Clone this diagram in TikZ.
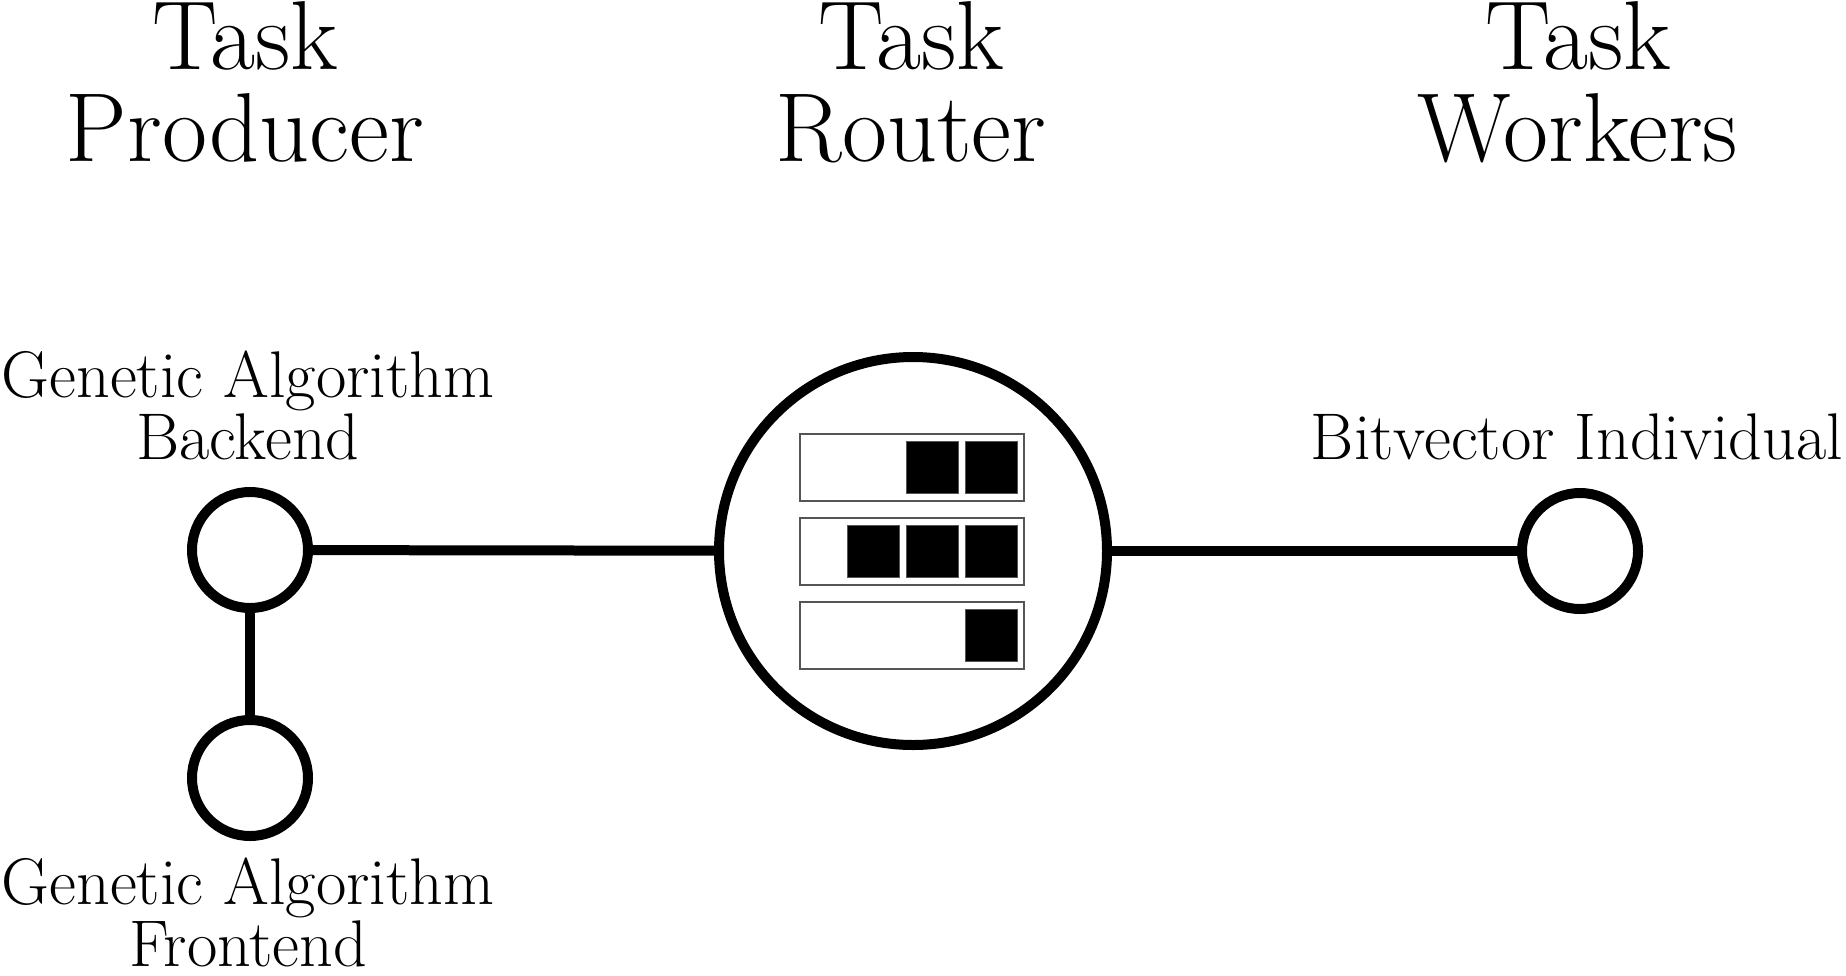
\documentclass[tikz,border=0pt]{standalone}
\usepackage{fontspec}
\usetikzlibrary{positioning}
\definecolor{QBorder}{HTML}{555555}
\tikzstyle{title} = [anchor=base, align=center, inner sep=0pt, font=\fontsize{49}{46}\selectfont]
\tikzstyle{label} = [anchor=base, align=center, inner sep=0pt, font=\fontsize{33}{28.5}\selectfont]
\tikzstyle{agent} = [circle, draw=black, line width=5pt, fill=white, minimum size=58pt, inner sep=0pt]
\tikzstyle{router} = [circle, draw=black, line width=5pt, fill=white, minimum size=194pt, inner sep=0pt]
\tikzstyle{queue} = [rectangle, draw=QBorder, line width=0.6pt, minimum width=112pt, minimum height=33.5pt, inner sep=0pt]
\tikzstyle{task} = [rectangle, draw=QBorder, line width=0.4pt, fill=black, minimum size=26pt, inner sep=0pt]
\tikzstyle{link} = [line width=5pt]

\begin{document}
\begin{tikzpicture}[x=0.5pt, y=-0.5pt]

\useasboundingbox (0,0) rectangle (1846,975);

% column headings (base = last line)
\node (hprod) [title] at (245,161) {Task\\Producer};
\node (hrout) [title] at (911,161) {Task\\Router};
\node (hwork) [title] at (1578,161) {Task\\Workers};

% agents
\node (backend) [agent] at (250,550) {};
\node (frontend) [agent] at (250,778) {};
\node (worker) [agent] at (1580,551) {};
\node (router) [router] at (913,551) {};

\node (lback) [label] at (248,459) {Genetic Algorithm\\Backend};
\node (lfront) [label] at (248,966) {Genetic Algorithm\\Frontend};
\node (lwork) [label] at (1577,459) {Bitvector Individual};

% queues inside the router
\node (q1) [queue] at (912,467.5) {};
\node (q2) [queue] at (912,551.5) {};
\node (q3) [queue] at (912,635.5) {};

\foreach \i in {1,2} {
  \node (t1\i) [task] at (1050-59*\i,467.5) {};
}
\foreach \i in {1,2,3} {
  \node (t2\i) [task] at (1050-59*\i,551.5) {};
}
\node (t31) [task] at (991,635.5) {};

% connectors
\draw [link] (backend) -- (router);
\draw [link] (router) -- (worker);
\draw [link] (backend) -- (frontend);

\end{tikzpicture}
\end{document}
